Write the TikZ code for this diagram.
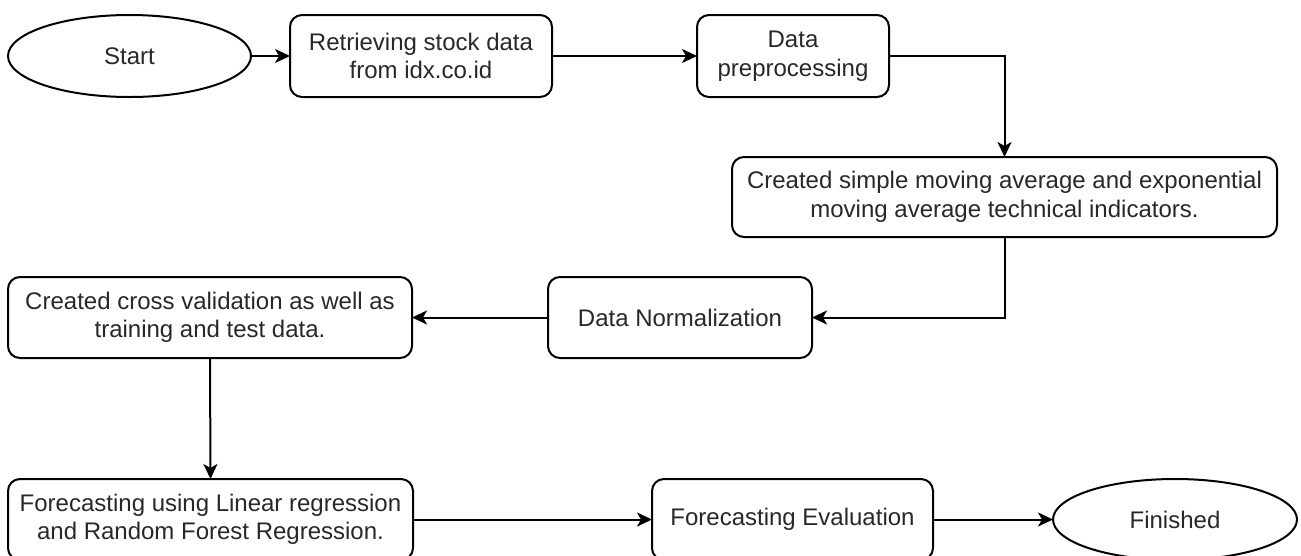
\documentclass[tikz,border=0pt]{standalone}
\usepackage{fontspec}
\setmainfont{Liberation Sans}
\usetikzlibrary{shapes.geometric,arrows.meta}

\definecolor{inkline}{RGB}{0,0,0}
\definecolor{inktext}{RGB}{40,40,40}

\tikzset{
  flowbase/.style={draw=inkline, line width=2pt, fill=white, inner sep=0pt, outer sep=0pt,
    align=center, text=inktext, font=\fontsize{24}{28.5}\selectfont},
  procbox/.style={flowbase, rectangle, rounded corners=12pt},
  terminal/.style={flowbase, ellipse},
  flowarrow/.style={draw=inkline, line width=2pt,
    -{Stealth[length=15pt, width=14pt, inset=4pt]}},
}

\begin{document}
\begin{tikzpicture}[x=1pt, y=-1pt]
  \useasboundingbox (0,0) rectangle (1301,555);

  % top row
  \node[terminal, minimum width=243pt, minimum height=82pt] (start) at (129.5,56) {Start};
  \node[procbox, minimum width=262pt, minimum height=82pt] (retr) at (421,56)
    {Retrieving stock data\\from idx.co.id};
  \node[procbox, minimum width=192pt, minimum height=82pt] (prep) at (793,56)
    {Data\\preprocessing};

  % indicators
  \node[procbox, minimum width=545pt, minimum height=80pt] (ind) at (1004.5,197)
    {Created simple moving average and exponential\\moving average technical indicators.};

  % middle row
  \node[procbox, minimum width=264pt, minimum height=81pt] (norm) at (680,317.5)
    {Data Normalization};
  \node[procbox, minimum width=404pt, minimum height=81pt] (cv) at (210,317.5)
    {Created cross validation as well as\\training and test data.};

  % bottom row
  \node[procbox, minimum width=405pt, minimum height=81pt] (fc) at (210.5,519.5)
    {Forecasting using Linear regression\\and Random Forest Regression.};
  \node[procbox, minimum width=281pt, minimum height=81pt] (eval) at (792.5,519.5)
    {Forecasting Evaluation};
  \node[terminal, minimum width=244pt, minimum height=81pt] (fin) at (1175,519.5)
    {Finished};

  % connectors
  \draw[flowarrow] (start.east) -- (retr.west);
  \draw[flowarrow] (retr.east) -- (prep.west);
  \draw[flowarrow] (prep.east) -| (ind.north);
  \draw[flowarrow] (ind.south) |- (norm.east);
  \draw[flowarrow] (norm.west) -- (cv.east);
  \draw[flowarrow] (cv.south) -- (fc.north);
  \draw[flowarrow] (fc.east) -- (eval.west);
  \draw[flowarrow] (eval.east) -- (fin.west);
\end{tikzpicture}
\end{document}
